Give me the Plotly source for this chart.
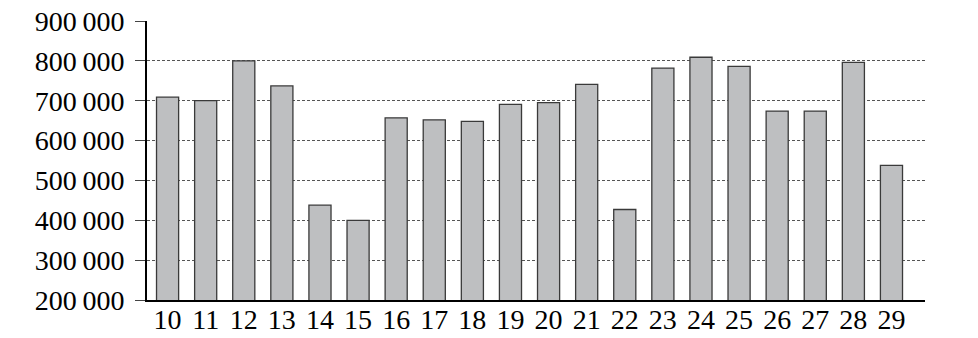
import plotly.graph_objects as go

categories = ["10", "11", "12", "13", "14", "15", "16", "17", "18", "19",
              "20", "21", "22", "23", "24", "25", "26", "27", "28", "29"]
values = [709000, 700000, 800000, 737000, 438000, 400000, 657000, 652000, 648000, 691000,
          695000, 741000, 427000, 782000, 809000, 786000, 674000, 674000, 796000, 538000]
y_ticks = [200000, 300000, 400000, 500000, 600000, 700000, 800000, 900000]
y_tick_labels = ["200\u2009000", "300\u2009000", "400\u2009000", "500\u2009000",
                 "600\u2009000", "700\u2009000", "800\u2009000", "900\u2009000"]

fig = go.Figure()
fig.add_trace(go.Bar(
    x=categories, y=values,
    marker=dict(color="#bebfc1", line=dict(color="#3a3a3a", width=1.3)),
))

fam = "Liberation Serif, Times New Roman, serif"

fig.update_layout(
    width=978, height=338,
    margin=dict(l=147, r=53, t=21, b=38),
    paper_bgcolor="white", plot_bgcolor="white",
    showlegend=False, bargap=0.42,
    font=dict(family=fam, color="#000000"),
    xaxis=dict(
        type="category", range=[-0.54, 19.88], automargin=False,
        showline=True, linecolor="black", linewidth=2,
        ticks="", showgrid=False, ticklabelstandoff=-7,
        tickfont=dict(size=28, family=fam, color="#000000"),
    ),
    yaxis=dict(
        range=[200000, 900000], automargin=False,
        tickvals=y_ticks, ticktext=y_tick_labels,
        showline=True, linecolor="black", linewidth=2,
        ticks="outside", ticklen=10, tickcolor="#444444", tickwidth=1.2,
        ticklabelstandoff=5,
        showgrid=True, gridcolor="#555555", gridwidth=1, griddash="3px,2px",
        zeroline=False,
        tickfont=dict(size=28, family=fam, color="#000000"),
    ),
)

fig.write_html("out.html")
